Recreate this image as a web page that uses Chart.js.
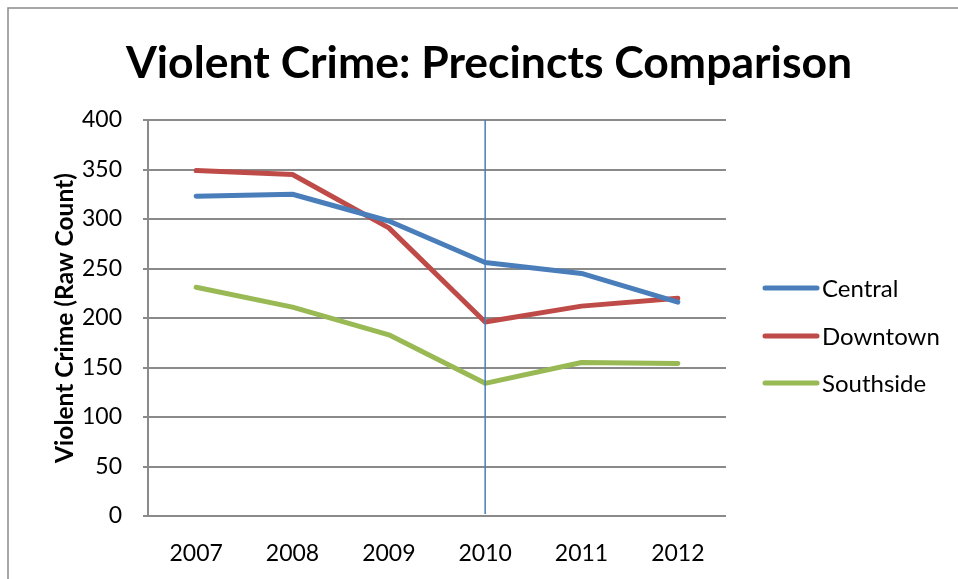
<!DOCTYPE html>
<html>
<head>
<meta charset="utf-8">
<script src="https://cdn.jsdelivr.net/npm/chart.js@4"></script>
<style>
  html, body { margin: 0; padding: 0; background: #ffffff; }
  #wrap { width: 958px; height: 579px; position: relative; }
</style>
</head>
<body>
<div id="wrap"><canvas id="c" width="958" height="579"></canvas></div>
<script>
const titleText = 'Violent Crime: Precincts Comparison';
const yAxisTitle = 'Violent Crime (Raw Count)';
const years = ['2007', '2008', '2009', '2010', '2011', '2012'];
const seriesNames = ['Central', 'Downtown', 'Southside'];
const central = [323, 325, 298, 256, 245, 216];
const downtown = [349, 345, 291, 196, 212, 220];
const southside = [231, 211, 183, 134, 155, 154];
const markerYear = '2010';
const yTicks = [0, 50, 100, 150, 200, 250, 300, 350, 400];

const colors = ['#4A7EBB', '#BE4B48', '#98B954'];
const FONT = 'Lato, "Open Sans", sans-serif';

const frameAndText = {
  id: 'frameAndText',
  beforeDraw(chart) {
    const ctx = chart.ctx;
    ctx.save();
    ctx.fillStyle = '#ffffff';
    ctx.fillRect(0, 0, chart.width, chart.height);
    ctx.strokeStyle = '#8a8a8a';
    ctx.lineWidth = 1.5;
    ctx.beginPath();
    ctx.moveTo(8, chart.height);
    ctx.lineTo(8, 8);
    ctx.lineTo(chart.width, 8);
    ctx.stroke();
    ctx.restore();
  },
  afterDraw(chart) {
    const ctx = chart.ctx;
    ctx.save();
    // title
    ctx.fillStyle = '#000000';
    ctx.font = 'bold 44.5px ' + FONT;
    ctx.textAlign = 'center';
    ctx.textBaseline = 'alphabetic';
    ctx.fillText(titleText, 489, 78);
    // legend
    const ds = chart.data.datasets;
    const legendY = [288, 336, 383];
    ds.forEach((d, i) => {
      ctx.strokeStyle = d.borderColor;
      ctx.lineWidth = 5;
      ctx.lineCap = 'round';
      ctx.beginPath();
      ctx.moveTo(765, legendY[i]);
      ctx.lineTo(817, legendY[i]);
      ctx.stroke();
      ctx.fillStyle = '#000000';
      ctx.font = '24px ' + FONT;
      ctx.textAlign = 'left';
      ctx.textBaseline = 'middle';
      ctx.fillText(d.label, 822, legendY[i] + 1);
    });
    ctx.restore();
  },
  afterDatasetsDraw(chart) {
    const ctx = chart.ctx;
    const xs = chart.scales.x;
    const ys = chart.scales.y;
    const x = xs.getPixelForValue(years.indexOf(markerYear));
    ctx.save();
    ctx.strokeStyle = '#4A7EBB';
    ctx.lineWidth = 1.5;
    ctx.beginPath();
    ctx.moveTo(x, ys.top);
    ctx.lineTo(x, ys.bottom - 2);
    ctx.stroke();
    ctx.restore();
  }
};

new Chart(document.getElementById('c'), {
  type: 'line',
  data: {
    labels: years,
    datasets: [
      { label: seriesNames[0], data: central, borderColor: colors[0], backgroundColor: colors[0] },
      { label: seriesNames[1], data: downtown, borderColor: colors[1], backgroundColor: colors[1] },
      { label: seriesNames[2], data: southside, borderColor: colors[2], backgroundColor: colors[2] }
    ].map(d => Object.assign(d, { borderWidth: 5, pointRadius: 0, pointHoverRadius: 0, tension: 0, fill: false, borderCapStyle: 'round', borderJoinStyle: 'round' }))
  },
  options: {
    responsive: false,
    animation: false,
    devicePixelRatio: 1,
    layout: { padding: { left: 0, right: 232, top: 120, bottom: 0 } },
    plugins: {
      legend: { display: false },
      title: { display: false },
      tooltip: { enabled: false }
    },
    scales: {
      x: {
        type: 'category',
        offset: true,
        grid: { display: false, drawTicks: false },
        border: { display: false },
        ticks: { color: '#000000', font: { family: FONT, size: 23 }, padding: 24, maxRotation: 0 },
        afterFit(s) { s.height = 63; }
      },
      y: {
        min: 0,
        max: 400,
        afterBuildTicks(s) { s.ticks = yTicks.map(v => ({ value: v })); },
        grid: { color: '#8a8a8a', lineWidth: 2, drawTicks: true, tickLength: 5 },
        border: { display: true, color: '#8a8a8a', width: 2 },
        ticks: { color: '#000000', font: { family: FONT, size: 23 }, padding: 21 },
        title: { display: true, text: yAxisTitle, color: '#000000', font: { family: FONT, size: 24.5, weight: 'bold' }, padding: { top: 50, bottom: 0 } },
        afterFit(s) { s.width = 148; }
      }
    }
  },
  plugins: [frameAndText]
});
</script>
</body>
</html>
